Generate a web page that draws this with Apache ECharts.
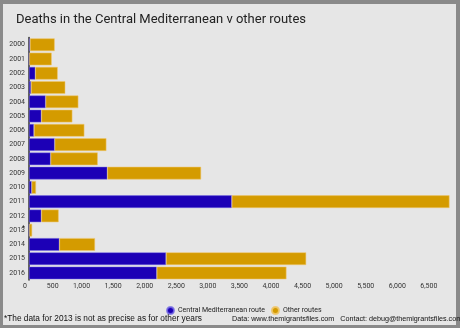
<!DOCTYPE html>
<html>
<head>
<meta charset="utf-8">
<script src="https://cdn.jsdelivr.net/npm/echarts@6/dist/echarts.min.js"></script>
<style>
html,body{margin:0;padding:0;background:#8a8a8a;}
#c{width:460px;height:328px;}
</style>
</head>
<body>
<div id="c"></div>
<script>
var years = ['2000','2001','2002','2003','2004','2005','2006','2007','2008','2009','2010','2011','2012','2013','2014','2015','2016'];
var centralMed = [15, 5, 100, 32, 264, 196, 79, 407, 343, 1241, 43, 3212, 196, 5, 481, 2171, 2024];
var otherRoutes = [392, 355, 355, 543, 518, 491, 798, 819, 746, 1485, 68, 3448, 274, 45, 565, 2219, 2054];
var xTicks = [0, 500, 1000, 1500, 2000, 2500, 3000, 3500, 4000, 4500, 5000, 5500, 6000, 6500];
var seriesNames = ['Central Mediterranean route', 'Other routes'];
var colors = ['#1c00b6', '#d49b00'];

var totals = years.map(function(y, i){ return centralMed[i] + otherRoutes[i]; });
var axisMax = Math.max.apply(null, totals);

var chart = echarts.init(document.getElementById('c'), null, {renderer:'canvas'});
chart.setOption({
  backgroundColor: '#8a8a8a',
  animation: false,
  textStyle: {fontFamily: 'Roboto, "Liberation Sans", sans-serif'},
  graphic: [
    {type:'rect', shape:{x:3, y:4, width:453, height:321}, style:{fill:'#e6e6e6'}, z:-10, silent:true},
    {type:'text', left:4, top:315, style:{text:'*The data for 2013 is not as precise as for other years', fill:'#111', font:'8.3px "Liberation Sans", Arial, sans-serif'}, z:10},
    {type:'text', left:232, top:315.5, style:{text:'Data: www.themigrantsfiles.com   Contact: debug@themigrantsfiles.com', fill:'#111', font:'7.2px "Liberation Sans", Arial, sans-serif'}, z:10}
  ],
  title: {
    text: 'Deaths in the Central Mediterranean v other routes',
    left: 11, top: 8,
    textStyle: {fontSize: 13, fontWeight: 'normal', color: '#222', fontFamily: 'Roboto, sans-serif'}
  },
  legend: {
    left: 161, top: 301,
    itemWidth: 7, itemHeight: 7, itemGap: 6,
    icon: 'circle',
    textStyle: {fontSize: 7, color: '#222', padding:[0,0,0,-1]},
    data: seriesNames
  },
  grid: {left: 29, right: 10.5, top: 37.6, bottom: 47.9, containLabel: false},
  xAxis: {
    type: 'value', min: 0, max: axisMax, interval: 500,
    axisLine: {show: false}, axisTick: {show: false}, splitLine: {show: false},
    axisLabel: {
      fontSize: 7, color: '#333', margin: 3, align: 'right', padding:[0,2,0,0],
      showMaxLabel: false,
      formatter: function(v){ return xTicks.indexOf(v) >= 0 ? v.toLocaleString('en-US') : ''; }
    }
  },
  yAxis: {
    type: 'category', data: years, inverse: true,
    axisLine: {show: true, lineStyle: {color: '#333', width: 1.5}},
    axisTick: {show: false},
    axisLabel: {
      fontSize: 7, color: '#333', margin: 4,
      formatter: function(v){ return v === '2013' ? '{y|' + v + '}{s|*}' : '{y|' + v + '}'; },
      rich: {
        y: {fontSize: 7, color: '#333'},
        s: {fontSize: 7, color: '#111', width: 0, padding:[0,0,4,0]}
      }
    }
  },
  series: [
    {
      name: seriesNames[0], type: 'bar', stack: 't', data: centralMed,
      barCategoryGap: '11%',
      itemStyle: {color: colors[0], borderColor: 'rgba(120,110,230,0.8)', borderWidth: 0.6}
    },
    {
      name: seriesNames[1], type: 'bar', stack: 't', data: otherRoutes,
      barCategoryGap: '11%',
      itemStyle: {color: colors[1], borderColor: 'rgba(240,200,110,0.9)', borderWidth: 0.6}
    }
  ]
});
</script>
</body>
</html>
